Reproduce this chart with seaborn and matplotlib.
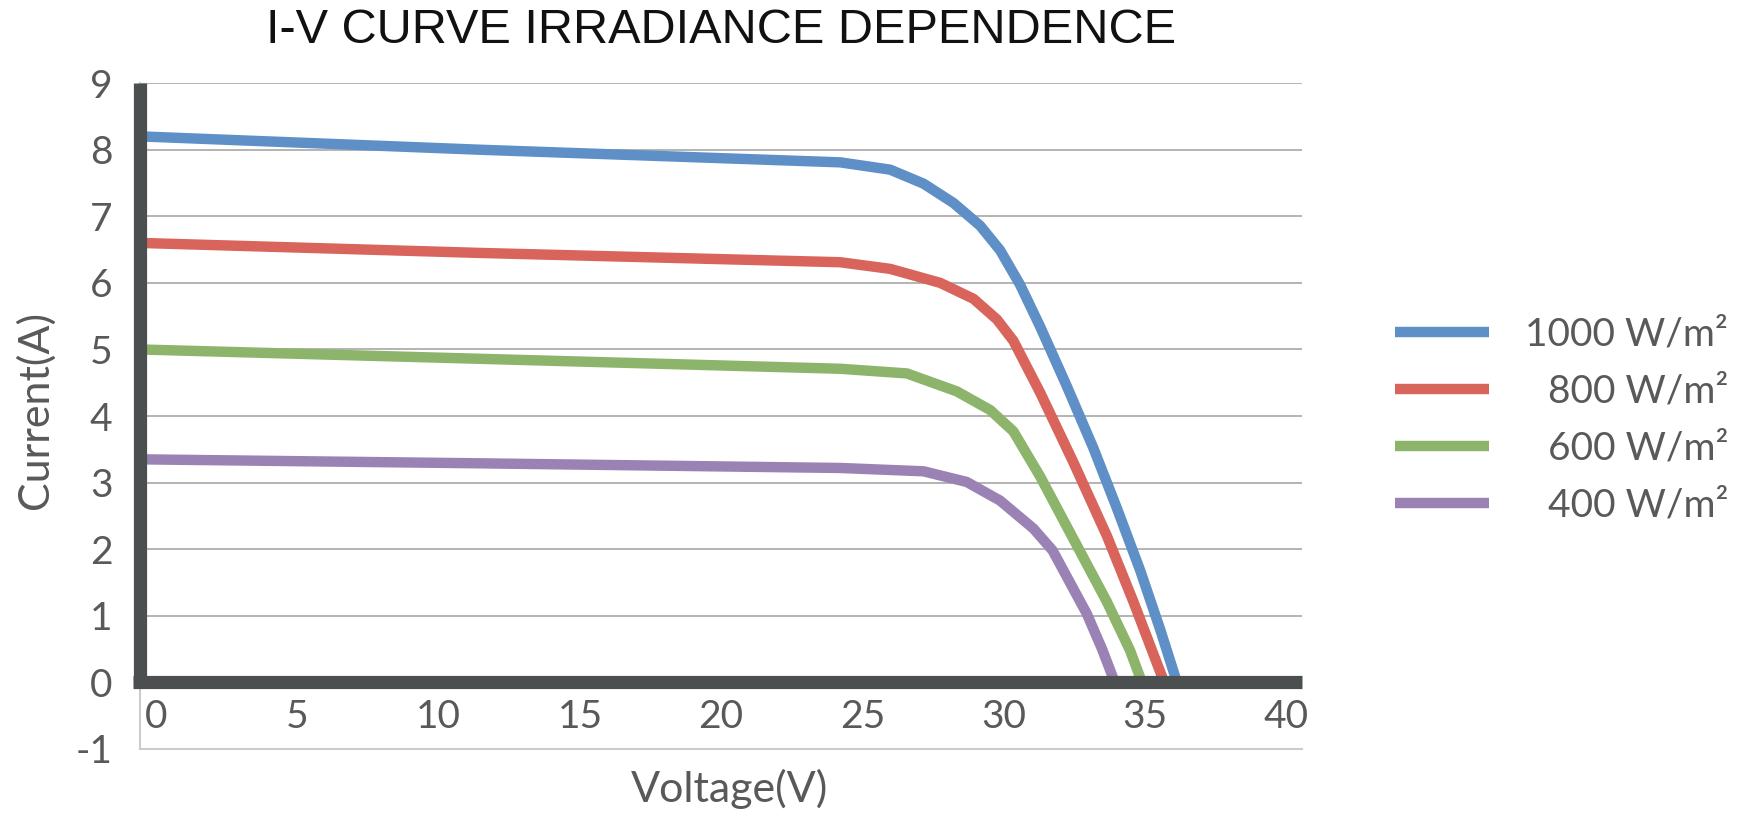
import numpy as np
import pandas as pd
import seaborn as sns
import matplotlib.pyplot as plt
from matplotlib.transforms import ScaledTranslation

# I-V curves, one pair of lists per irradiance
labels = ["1000 W/m²", "800 W/m²", "600 W/m²", "400 W/m²"]
colors = ["#5e8fc6", "#d8645b", "#8db46b", "#9a83b4"]

volt_1000 = [0, 12, 24.78, 26.55, 27.73, 28.79, 29.73, 30.44, 31.15, 31.86,
             32.8, 33.75, 34.57, 35.4, 36.11, 36.7]
amp_1000 = [8.2, 8.0, 7.81, 7.7, 7.49, 7.2, 6.86, 6.49, 5.97, 5.34,
            4.45, 3.51, 2.62, 1.68, 0.79, 0]

volt_800 = [0, 12, 24.78, 26.55, 28.32, 29.5, 30.33, 30.91, 31.86, 33.04,
            34.22, 35.16, 35.87, 36.25]
amp_800 = [6.6, 6.45, 6.31, 6.21, 6.0, 5.76, 5.45, 5.13, 4.35, 3.3,
           2.2, 1.21, 0.42, 0]

volt_600 = [0, 12, 24.78, 27.14, 28.91, 30.09, 30.91, 31.86, 33.04, 34.22,
            35.04, 35.46]
amp_600 = [5.0, 4.86, 4.71, 4.64, 4.37, 4.09, 3.77, 3.09, 2.15, 1.21,
           0.48, 0]

volt_400 = [0, 12, 24.78, 27.73, 29.26, 30.44, 31.62, 32.3, 33.51, 34.05, 34.5]
amp_400 = [3.35, 3.29, 3.22, 3.17, 3.01, 2.73, 2.31, 1.98, 1.03, 0.5, 0]

x_ticks = [0, 5, 10, 15, 20, 25, 30, 35, 40]
y_ticks = [-1, 0, 1, 2, 3, 4, 5, 6, 7, 8, 9]

volts = [volt_1000, volt_800, volt_600, volt_400]
amps = [amp_1000, amp_800, amp_600, amp_400]
df = pd.concat(
    [pd.DataFrame({"Voltage": v, "Current": a, "Irradiance": lab})
     for v, a, lab in zip(volts, amps, labels)],
    ignore_index=True,
)

sns.set_theme(style="white")
plt.rcParams["font.family"] = ["Lato", "DejaVu Sans"]
plt.rcParams["axes.unicode_minus"] = False

text_grey = "#595959"
dark = "#4b4f50"

fig = plt.figure(figsize=(17.38, 8.14), dpi=100)
ax = fig.add_axes([0.0806, 0.0799, 0.6686, 0.818])

sns.lineplot(
    data=df, x="Voltage", y="Current", hue="Irradiance",
    palette=dict(zip(labels, colors)), hue_order=labels,
    sort=False, estimator=None, linewidth=7.5, ax=ax, zorder=3,
)
for line in ax.get_lines():
    line.set_solid_joinstyle("round")

ax.set_xlim(0, 41.13)
ax.set_ylim(-1, 9)
ax.set_xticks(x_ticks)
ax.set_yticks(y_ticks)
ax.tick_params(length=0, labelsize=28, labelcolor=text_grey)
ax.tick_params(axis="y", pad=20)
ax.tick_params(axis="x", pad=0)

# x tick labels sit between y=0 and y=-1, a bit right of their ticks
shift = ScaledTranslation(0.16, 0.50, fig.dpi_scale_trans)
for lab in ax.get_xticklabels():
    lab.set_transform(lab.get_transform() + shift)

ax.yaxis.grid(True, color="#b3b3b3", linewidth=1.4)
ax.xaxis.grid(False)
for side in ["top", "right"]:
    ax.spines[side].set_visible(False)
for side in ["left", "bottom"]:
    ax.spines[side].set_color("#cccccc")
    ax.spines[side].set_linewidth(1.5)

# heavy dark axes through the origin
ax.hlines(0, -0.25, 41.13, color=dark, linewidth=9.5, zorder=5, clip_on=False)
ax.vlines(0, 0, 9, color=dark, linewidth=9.5, zorder=5, clip_on=False)

ax.set_xlabel("Voltage(V)", fontsize=31, color=text_grey, va="center")
ax.set_ylabel("Current(A)", fontsize=31, color=text_grey, va="center")
ax.xaxis.set_label_coords(0.507, -0.06)
ax.yaxis.set_label_coords(-0.0904, 0.509)

ax.set_title("I-V CURVE IRRADIANCE DEPENDENCE", fontsize=35, color="#111111",
             family=["Liberation Sans Narrow", "Liberation Sans", "DejaVu Sans"],
             y=1.066, va="center")

handles, labs = ax.get_legend_handles_labels()
leg = ax.legend(handles, labs, loc="center left", bbox_to_anchor=(1.08, 0.494),
                frameon=False, fontsize=28, handlelength=2.42, handletextpad=0.93,
                labelspacing=0.545, borderpad=0, borderaxespad=0)
for h in leg.get_lines():
    h.set_linewidth(7.5)
    h.set_solid_capstyle("butt")
for t in leg.get_texts():
    t.set_color(text_grey)

# right-align the legend labels like the reference
fig.canvas.draw()
texts = leg.get_texts()
widths = [t.get_window_extent().width for t in texts]
w = max(widths)
for t, tw in zip(texts, widths):
    t.set_position((w - tw, 0))

fig.savefig("out.png", dpi=100)
